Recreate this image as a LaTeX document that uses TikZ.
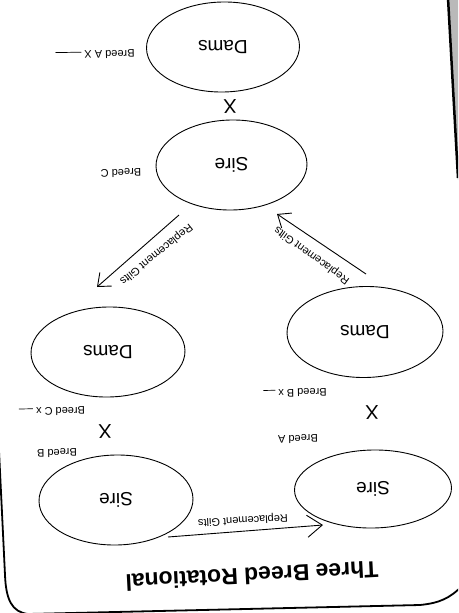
\documentclass[tikz,border=0pt]{standalone}
\usepackage{fontspec}
\setmainfont{Liberation Sans}
\usetikzlibrary{shapes.geometric,arrows.meta}
\begin{document}
\begin{tikzpicture}[x=1pt,y=-1pt,
  oval/.style={ellipse, draw, line width=0.9pt, inner sep=0pt, minimum width=153pt, minimum height=90pt, font=\fontsize{19}{19}\selectfont, rotate=181},
  small/.style={font=\fontsize{11}{11}\selectfont, inner sep=0pt, rotate=181},
  cross/.style={font=\fontsize{20}{20}\selectfont, inner sep=0pt, rotate=181},
  gilt/.style={line width=0.9pt, -{Straight Barb[length=11pt,width=18pt,line width=0.9pt]}},
  glabel/.style={font=\fontsize{11}{11}\selectfont, inner sep=0pt},
  blank/.style={rule/.style={}}
]
\useasboundingbox (0,0) rectangle (458,613);
\begin{scope}
  \clip (0,0) rectangle (458,613);
  % scanned page edge
  \fill[gray!55] (449,0) -- (462,0) -- (462,180) -- (458,180) -- cycle;
  \draw[line width=2.5pt] (448,-2) -- (458,178);
  % frame
  \draw[line width=1.8pt] (-2,430) -- (5,575) .. controls (6,600) and (12,612) .. (28,614) -- (420,605) .. controls (440,603) and (450,598) .. (462,586);
\end{scope}

% ellipses
\node[oval] (damsTop) at (223,47) {Dams};
\node[oval, minimum width=151pt] (sireMid) at (231.5,165) {Sire};
\node[oval, minimum width=154pt] (damsL) at (108,352) {Dams};
\node[oval, minimum width=156pt, minimum height=91pt] (damsR) at (365,332) {Dams};
\node[oval, minimum width=154pt] (sireL) at (116,500) {Sire};
\node[oval, minimum width=157pt, minimum height=78pt] (sireR) at (373,489) {Sire};

% crosses
\node[cross] (x1) at (230,106) {X};
\node[cross] (x2) at (105,431) {X};
\node[cross] (x3) at (372,412) {X};

% breed labels
\node[small] (lA) at (95,54.5) {Breed A X \rule[1pt]{26pt}{0.7pt}};
\node[small] (lC) at (121,173) {Breed C};
\node[small] (lB2) at (295,393) {Breed B x \rule[0.5pt]{12pt}{0.7pt}};
\node[small] (lC2) at (52,411.5) {Breed C x \rule[0.5pt]{14pt}{0.7pt}};
\node[small] (lB) at (57,453) {Breed B};
\node[small] (lA2) at (298,439) {Breed A};

% replacement gilts arrows
\coordinate (a1s) at (179,215);
\coordinate (a1e) at (97,287);
\coordinate (a2s) at (366,274);
\coordinate (a2e) at (277,214);
\coordinate (a3s) at (168,537);
\coordinate (a3e) at (323,525);
\draw[gilt] (a1s) -- (a1e);
\draw[gilt] (a2s) -- (a2e);
\draw[line width=0.9pt, -{Straight Barb[length=15pt,width=22pt,line width=0.9pt]}] (a3s) -- (a3e);
\node[glabel, rotate=219] (g1) at (156,254) {Replacement Gilts};
\node[glabel, rotate=144] (g2) at (312,255) {Replacement Gilts};
\node[glabel, rotate=183] (g3) at (243,520) {Replacement Gilts};

% title
\node[font=\fontsize{23}{23}\selectfont\bfseries, inner sep=0pt, rotate=183] (title) at (252,576) {Three Breed Rotational};
\end{tikzpicture}
\end{document}
